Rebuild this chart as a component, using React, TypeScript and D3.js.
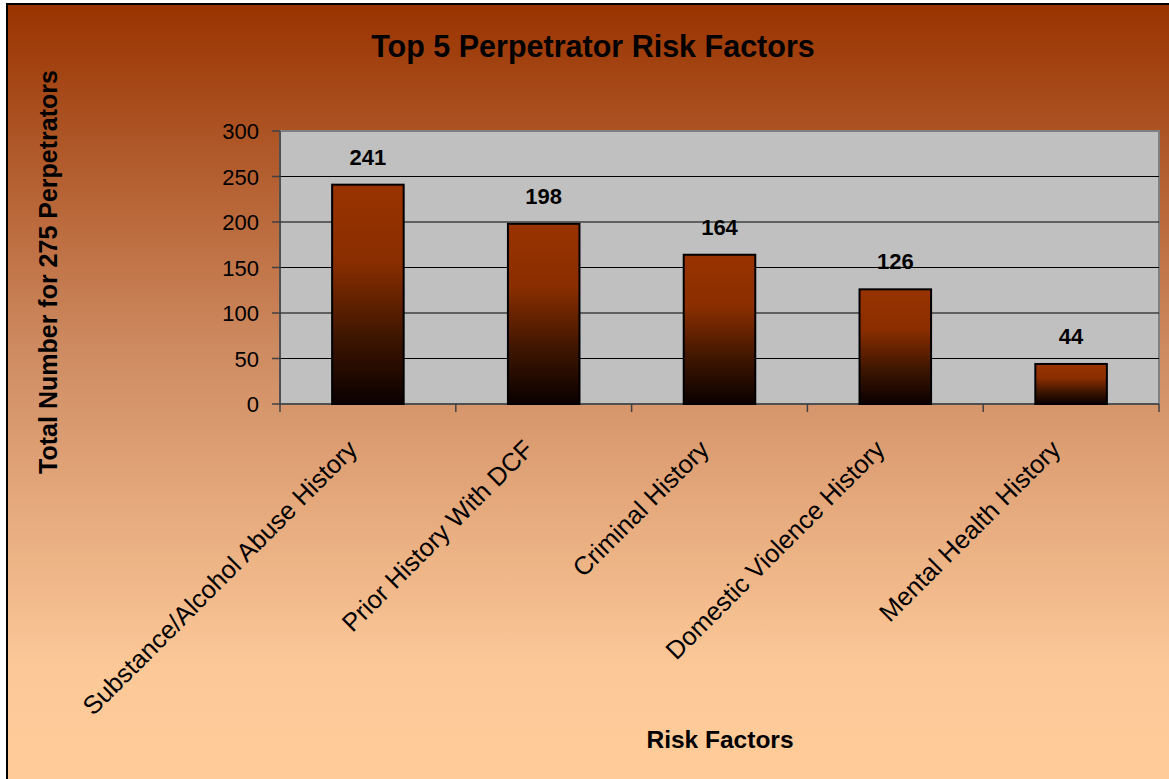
import React from "react";
import * as d3 from "d3";

const categories = [
  "Substance/Alcohol Abuse History",
  "Prior History With DCF",
  "Criminal History",
  "Domestic Violence History",
  "Mental Health History",
];
const values = [241, 198, 164, 126, 44];
const yTicks = [0, 50, 100, 150, 200, 250, 300];

const W = 1169;
const H = 779;
const plot = { left: 280, top: 131, right: 1159, bottom: 404 };
const font = "'Liberation Sans', Arial, Helvetica, sans-serif";

export default function App() {
  const x = d3
    .scaleBand<string>()
    .domain(categories)
    .range([plot.left, plot.right])
    .paddingInner(0.593)
    .paddingOuter(0.2965);
  const xb = d3.scaleBand<string>().domain(categories).range([plot.left, plot.right]);
  const y = d3.scaleLinear().domain([0, 300]).range([plot.bottom, plot.top]);

  return (
    <div style={{ position: "absolute", left: 0, top: 0 }}>
      <svg width={W} height={H} style={{ display: "block" }}>
        <defs>
          <linearGradient id="bg" x1="0" y1="0" x2="0" y2="1">
            <stop offset="0" stopColor="#993300" />
            <stop offset="0.45" stopColor="#cf8c62" />
            <stop offset="0.85" stopColor="#fcc898" />
            <stop offset="1" stopColor="#ffcc99" />
          </linearGradient>
          <linearGradient id="bar" x1="0" y1="0" x2="0" y2="1">
            <stop offset="0" stopColor="#993300" />
            <stop offset="0.35" stopColor="#8a2e00" />
            <stop offset="0.7" stopColor="#3d1500" />
            <stop offset="1" stopColor="#0a0000" />
          </linearGradient>
        </defs>
        <rect x={7} y={4} width={W} height={H} fill="url(#bg)" stroke="#000" strokeWidth={2} />
        <text x={593} y={57} textAnchor="middle" fontFamily={font} fontWeight="bold" fontSize={30.5}>
          Top 5 Perpetrator Risk Factors
        </text>
        <rect
          x={plot.left}
          y={plot.top}
          width={plot.right - plot.left}
          height={plot.bottom - plot.top}
          fill="#c0c0c0"
          stroke="#808080"
          strokeWidth={2}
        />
        {yTicks.slice(1, -1).map((t) => (
          <line key={"g" + t} x1={plot.left} x2={plot.right} y1={y(t)} y2={y(t)} stroke="#000" strokeWidth={1} />
        ))}
        <line x1={plot.left} x2={plot.left} y1={plot.top} y2={plot.bottom + 8} stroke="#404040" strokeWidth={1.5} />
        <line x1={plot.left} x2={plot.right} y1={plot.bottom} y2={plot.bottom} stroke="#404040" strokeWidth={1.5} />
        {yTicks.map((t) => (
          <g key={"y" + t}>
            <line x1={plot.left - 8} x2={plot.left} y1={y(t)} y2={y(t)} stroke="#404040" strokeWidth={1.5} />
            <text x={plot.left - 21} y={y(t) + 8} textAnchor="end" fontFamily={font} fontSize={22}>
              {t}
            </text>
          </g>
        ))}
        {categories.map((c, i) => (
          <line
            key={"xt" + i}
            x1={(xb(c) as number) + xb.bandwidth()}
            x2={(xb(c) as number) + xb.bandwidth()}
            y1={plot.bottom}
            y2={plot.bottom + 8}
            stroke="#404040"
            strokeWidth={1.5}
          />
        ))}
        {categories.map((c, i) => (
          <g key={"b" + i}>
            <rect
              x={x(c)}
              y={y(values[i])}
              width={x.bandwidth()}
              height={y(0) - y(values[i])}
              fill="url(#bar)"
              stroke="#000"
              strokeWidth={2}
            />
            <text
              x={(x(c) as number) + x.bandwidth() / 2}
              y={y(values[i]) - 20}
              textAnchor="middle"
              fontFamily={font}
              fontWeight="bold"
              fontSize={22}
            >
              {values[i]}
            </text>
            <text
              transform={`translate(${(xb(c) as number) + xb.bandwidth() / 2 - 9},${plot.bottom + 47}) rotate(-45)`}
              textAnchor="end"
              fontFamily={font}
              fontSize={25.5}
            >
              {c}
            </text>
          </g>
        ))}
        <text x={720} y={748} textAnchor="middle" fontFamily={font} fontWeight="bold" fontSize={24.5}>
          Risk Factors
        </text>
        <text
          transform={`translate(57,272) rotate(-90)`}
          textAnchor="middle"
          fontFamily={font}
          fontWeight="bold"
          fontSize={25}
        >
          Total Number for 275 Perpetrators
        </text>
      </svg>
    </div>
  );
}
